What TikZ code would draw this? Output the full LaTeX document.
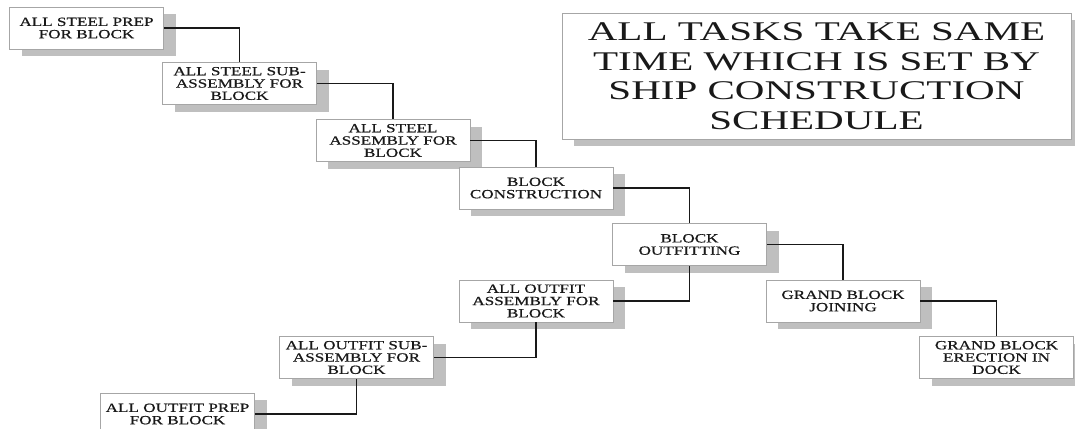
\documentclass[tikz,border=0pt]{standalone}
\usepackage{fontspec}
\usetikzlibrary{shadows}
\newfontfamily\taskfont[FakeStretch=1.37,FakeBold=0.6]{Liberation Serif}
\newfontfamily\notefont[FakeStretch=1.52]{Liberation Serif}
\tikzset{
  taskbox/.style={draw=black!35, line width=0.9pt, fill=white,
    minimum width=154pt, minimum height=42pt, inner sep=0pt,
    align=center, text=black!90,
    font=\taskfont\fontsize{12.5}{12.3}\selectfont,
    drop shadow={shadow xshift=12pt, shadow yshift=-7pt, fill=black!25, opacity=1}},
  notebox/.style={taskbox, minimum width=509pt, minimum height=126pt,
    font=\notefont\fontsize{27}{29.5}\selectfont},
  link/.style={draw=black!90, line width=1.2pt}
}
\begin{document}
\begin{tikzpicture}[x=1pt,y=-1pt]
  \useasboundingbox (0,0) rectangle (1075,428);

  \node[notebox] (note) at (816.5,76) {ALL TASKS TAKE SAME\\TIME WHICH IS SET BY\\SHIP CONSTRUCTION\\SCHEDULE};

  % steel work chain
  \node[taskbox] (sprep) at (86.5,28) {ALL STEEL PREP\\FOR BLOCK};
  \node[taskbox] (ssub)  at (239.5,83.5) {ALL STEEL SUB-\\ASSEMBLY FOR\\BLOCK};
  \node[taskbox] (sass)  at (393,140.5) {ALL STEEL\\ASSEMBLY FOR\\BLOCK};
  \node[taskbox] (bcon)  at (536,188) {BLOCK\\CONSTRUCTION};
  \node[taskbox] (bout)  at (689.5,244.5) {BLOCK\\OUTFITTING};
  \node[taskbox] (gjoin) at (843,301) {GRAND BLOCK\\JOINING};
  \node[taskbox] (gerec) at (996.5,357.5) {GRAND BLOCK\\ERECTION IN\\DOCK};

  % outfit work chain
  \node[taskbox] (oass)  at (536,301) {ALL OUTFIT\\ASSEMBLY FOR\\BLOCK};
  \node[taskbox] (osub)  at (356.5,357.5) {ALL OUTFIT SUB-\\ASSEMBLY FOR\\BLOCK};
  \node[taskbox] (oprep) at (177.5,414) {ALL OUTFIT PREP\\FOR BLOCK};

  \draw[link] (sprep.east) -| (ssub.north);
  \draw[link] (ssub.east) -| (sass.north);
  \draw[link] (sass.east) -| (bcon.north);
  \draw[link] (bcon.east) -| (bout.north);
  \draw[link] (bout.east) -| (gjoin.north);
  \draw[link] (gjoin.east) -| (gerec.north);
  \draw[link] (bout.south) |- (oass.east);
  \draw[link] (oass.south) |- (osub.east);
  \draw[link] (osub.south) |- (oprep.east);
\end{tikzpicture}
\end{document}
